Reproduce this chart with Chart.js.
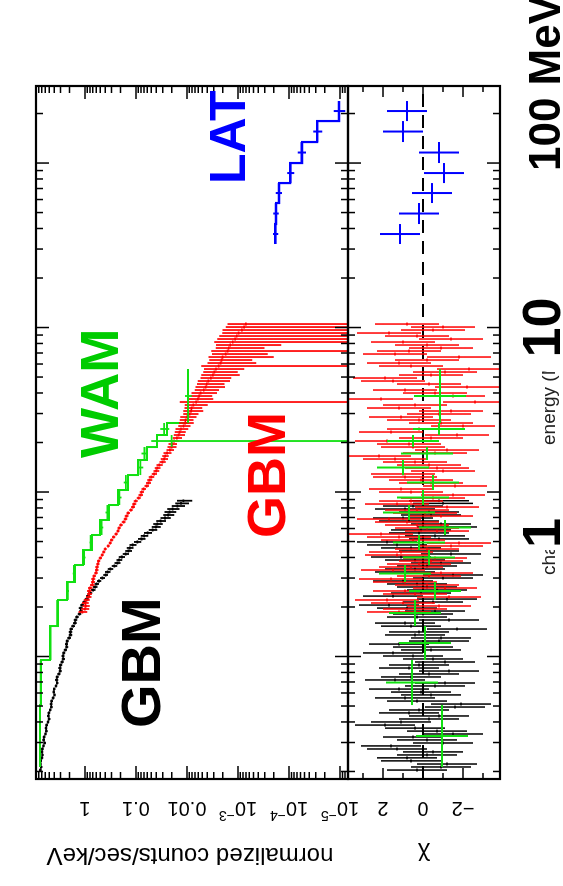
<!DOCTYPE html>
<html>
<head>
<meta charset="utf-8">
<script src="https://cdn.jsdelivr.net/npm/chart.js@4.4.1/dist/chart.umd.min.js"></script>
<style>
html, body { margin: 0; padding: 0; background: #fff; overflow: hidden; width: 563px; height: 886px; }
#rot { position: absolute; left: 0; top: 0; width: 886px; height: 563px;
       transform-origin: 0 0; transform: translateY(886px) rotate(-90deg); }
#rot canvas { position: absolute; left: 0; top: 0; }
</style>
</head>
<body>
<div id="rot">
  <canvas id="mainChart" width="886" height="563"></canvas>
  <canvas id="chiChart" width="886" height="563"></canvas>
</div>
<script>
// ---- data (energy in MeV, normalized counts/sec/keV, chi) ----
// GBM NaI (black)
const nbE = [0.0204,0.0213,0.0222,0.0232,0.0242,0.0252,0.0263,0.0274,0.0286,0.0298,
  0.0311,0.0324,0.0338,0.0352,0.0367,0.0383,0.0400,0.0417,0.0435,0.0454,
  0.0473,0.0493,0.0514,0.0536,0.0560,0.0584,0.0608,0.0634,0.0662,0.0690,
  0.0720,0.0751,0.0783,0.0816,0.0851,0.0888,0.0926,0.0966,0.1007,0.1051,
  0.1096,0.1142,0.119,0.1242,0.1296,0.1352,0.141,0.1469,0.153,0.1597,
  0.1667,0.1738,0.1813,0.189,0.197,0.2055,0.2144,0.2235,0.233,0.2431,
  0.2537,0.2646,0.276,0.2877,0.300,0.313,0.3265,0.3404,0.355,0.3702,
  0.386,0.4026,0.420,0.4381,0.457,0.4766,0.497,0.5185,0.541,0.564,
  0.588,0.613,0.639,0.6664,0.695,0.7249,0.756,0.7883,0.822,0.8529,0.885];
const nbC = [7.5,7.2,7.45,7.35,7.0,6.8,6.95,6.85,6.5,6.2,
  6.45,6.3,5.95,5.7,5.8,5.65,5.3,5.05,5.2,5.1,
  4.8,4.55,4.6,4.5,4.2,3.95,4.1,4.0,3.7,3.5,
  3.6,3.5,3.25,3.05,3.1,3.0,2.8,2.65,2.7,2.6,
  2.42,2.28,2.3,2.22,2.05,1.92,1.93,1.86,1.71,1.58,
  1.54,1.44,1.28,1.2,1.21,1.14,1.03,0.93,0.87,0.79,
  0.69,0.63,0.59,0.53,0.455,0.395,0.36,0.318,0.265,0.232,
  0.213,0.19,0.16,0.141,0.132,0.116,0.094,0.078,0.069,0.059,
  0.047,0.041,0.038,0.033,0.027,0.0235,0.022,0.0192,0.0155,0.0131,0.0118];
const nbErr = [0.06,0.06,0.06,0.06,0.06,0.06,0.06,0.06,0.06,0.06,
  0.06,0.06,0.06,0.06,0.06,0.06,0.06,0.06,0.06,0.06,
  0.06,0.06,0.06,0.06,0.06,0.06,0.06,0.06,0.06,0.06,
  0.07,0.07,0.07,0.07,0.07,0.07,0.07,0.07,0.07,0.07,
  0.07,0.07,0.07,0.07,0.08,0.08,0.08,0.08,0.08,0.08,
  0.08,0.08,0.08,0.08,0.09,0.09,0.09,0.09,0.09,0.09,
  0.1,0.1,0.1,0.1,0.11,0.11,0.12,0.12,0.12,0.13,
  0.13,0.14,0.14,0.15,0.15,0.16,0.16,0.17,0.17,0.18,
  0.19,0.2,0.21,0.22,0.23,0.24,0.26,0.27,0.29,0.3,0.33];
const nbChi = [0.3,-0.9,-1.2,0.6,0.8,-0.2,-0.5,1.3,1.6,-1.0,
  -0.2,0.5,-1.5,-0.7,0.4,1.9,1.1,-0.3,-0.8,0.7,
  0.2,-1.6,-1.9,0.3,0.9,-0.4,0.1,1.2,-0.6,-1.1,
  1.4,0.6,-0.3,-1.3,0.7,0.2,-1.1,-0.5,0.5,1.5,
  -0.4,0.0,1.2,-0.8,-0.9,0.4,0.2,-1.7,0.6,0.9,
  -1.3,0.3,0.0,-0.6,0.8,1.7,-0.5,-1.2,1.5,0.1,
  -0.7,-0.2,0.3,1.0,-1.0,-1.5,0.9,0.4,-0.2,-0.9,
  0.4,1.1,-1.4,-0.3,0.6,1.3,1.8,-0.8,-0.6,0.2,
  0.1,-1.2,-0.9,0.7,1.0,-0.4,-0.3,0.9,0.5,-1.0,-0.8];
const nbChiErr = 1.5;

// GBM BGO (red)
const bgoE = [0.1865,0.1945,0.2028,0.2115,0.2206,0.23,0.2399,0.2502,0.2609,0.2721,
  0.2837,0.2959,0.3086,0.3218,0.3356,0.35,0.365,0.3807,0.397,0.414,
  0.4318,0.4503,0.4696,0.4897,0.5107,0.5326,0.5554,0.5792,0.6041,0.63,
  0.657,0.6852,0.7146,0.7452,0.7771,0.8104,0.8452,0.8815,0.9194,0.9589,
  1.0,1.0431,1.088,1.1345,1.183,1.2339,1.287,1.3419,1.399,1.4592,
  1.522,1.5871,1.655,1.726,1.8,1.8773,1.958,2.0422,2.13,2.2211,
  2.316,2.4154,2.519,2.6272,2.74,2.8575,2.98,3.1078,3.241,3.38,
  3.525,3.6761,3.834,3.998,4.169,4.3481,4.535,4.7293,4.932,5.1435,
  5.364,5.594,5.834,6.0841,6.345,6.6172,6.901,7.1972,7.506,7.8281,
  8.164,8.514,8.879,9.2593,9.656,10.069,10.5];
const bgoC = [1.12,1.0,0.96,0.99,0.93,0.85,0.82,0.83,0.79,0.72,
  0.70,0.69,0.66,0.61,0.59,0.58,0.56,0.54,0.50,0.46,
  0.43,0.40,0.35,0.32,0.30,0.275,0.245,0.226,0.214,0.197,
  0.175,0.161,0.153,0.142,0.126,0.115,0.109,0.101,0.089,0.081,
  0.077,0.071,0.062,0.057,0.054,0.050,0.044,0.0402,0.038,0.0348,
  0.0305,0.0281,0.0267,0.0246,0.0216,0.0201,0.0193,0.0179,0.0158,0.0146,
  0.0140,0.0131,0.0117,0.0109,0.0107,0.0100,0.0089,0.0083,0.0081,0.0075,
  0.0066,0.0061,0.0058,0.0054,0.0047,0.0043,0.0041,0.0038,0.0034,0.0031,
  0.0029,0.0027,0.0024,0.0022,0.0021,0.0020,0.00175,0.00160,0.00152,0.00142,
  0.00127,0.00114,0.00106,0.00097,0.00084,0.00076,0.00070];
const bgoErr = [0.2,0.18,0.16,0.15,0.13,0.12,0.11,0.1,0.1,0.1,
  0.09,0.09,0.08,0.08,0.08,0.08,0.07,0.07,0.07,0.07,
  0.07,0.07,0.07,0.07,0.07,0.07,0.07,0.07,0.07,0.08,
  0.08,0.08,0.08,0.08,0.08,0.09,0.09,0.09,0.09,0.1,
  0.1,0.1,0.1,0.11,0.11,0.12,0.12,0.13,0.13,0.14,
  0.14,0.16,0.15,0.18,0.17,0.2,0.19,0.22,0.21,0.25,
  0.24,0.28,0.27,0.32,0.3,0.35,0.33,0.42,0.38,0.48,
  1.1,0.5,0.45,0.52,0.5,0.58,0.55,0.62,0.6,0.7,
  0.65,0.72,1.2,0.8,0.75,0.9,0.85,1.1,0.8,0.9,
  1.3,1.25,1.2,1.1,1.4,1.3,1.3];
const bgoChi = [1.2,0.4,-0.8,1.0,1.8,-1.3,0.4,0.9,-1.1,-0.2,
  0.9,1.6,-0.3,-0.9,1.5,0.6,0.2,-0.4,-0.6,1.3,
  1.1,-0.2,-1.4,-1.8,0.5,1.2,2.1,-0.7,-0.2,0.3,
  0.8,1.7,-0.9,-0.1,0.3,-1.2,1.3,0.6,-0.5,-1.5,
  0.6,1.1,-1.6,-0.4,0.1,0.9,1.0,-1.0,-0.7,-0.3,
  0.4,1.4,2.2,-0.6,-1.2,0.5,0.7,1.8,-0.4,-1.7,
  1.6,0.2,-2.0,-0.9,0.2,1.1,-0.8,-1.4,1.2,0.4,
  -2.6,2.1,-1.5,-0.6,0.9,-2.2,-0.3,1.5,1.9,-0.4,
  -1.1,-2.3,0.6,1.2,-0.2,-1.8,1.4,0.7,-0.9,-0.2,
  1.0,-1.4,0.3,1.7,-0.5,-1.0,0.8];
const bgoChiErr = 1.6;

// Suzaku WAM (green): bin edges, model steps, data
const wamEdges = [0.0213,0.0507,0.0952,0.1532,0.2206,0.2837,0.3599,0.444,0.5479,0.676,0.8336,1.0285,1.2683,1.5652,1.877,2.2213,2.6281,5.594];
const wamModel = [7.63,7.30,4.86,3.38,2.25,1.57,1.094,0.729,0.508,0.338,0.226,0.1436,0.0913,0.0609,0.0388,0.0247,0.00954];
const wamData = [7.6,7.4,4.7,3.5,2.16,1.65,1.04,0.77,0.47,0.365,0.212,0.158,0.082,0.068,0.02,0.028,0.0095];
const wamErr = [0.03,0.03,0.04,0.04,0.05,0.05,0.06,0.06,0.07,0.08,0.09,0.1,0.12,0.14,1.5,0.2,0.15];
const wamChi = [-0.95,0.55,-0.1,0.4,-0.6,0.9,-0.3,0.2,-1.1,0.7,0.0,-0.5,1.0,-0.2,0.5,-0.8,-0.85];
const wamChiErr = 1.3;

// Fermi LAT (blue)
const latEdges = [32.19,42.58,57.14,75.56,100.0,134.2,180.0,238.2];
const latModel = [1.881e-4,1.80e-4,1.57e-4,9.56e-5,5.56e-5,2.83e-5,1.047e-5];
const latData = [1.85e-4,1.82e-4,1.6e-4,9.4e-5,5.7e-5,2.8e-5,1.06e-5];
const latErr = [0.12,0.12,0.14,0.16,0.18,0.2,0.25];
const latChi = [1.15,0.2,-0.45,-1.05,-0.8,1.0,0.8];
const latChiErr = 1.0;

// axis ticks / labels
const countTicks = [1, 0.1, 0.01, 1e-3, 1e-4, 1e-5];
const countLabels = ['1', '0.1', '0.01', '10^\u22123', '10^\u22124', '10^\u22125'];
const chiTicks = [2, 0, -2];
const chiLabels = ['2', '0', '\u22122'];
const energyTicks = [1, 10, 100];
const energyLabels = ['1', '10', '100 MeV'];

const E_MIN = 0.018, E_MAX = 294, C_MIN = 7e-6, C_MAX = 9.1, CHI_MIN = -3.85, CHI_MAX = 3.75;
const FONT = '"Liberation Sans", Arial, Helvetica, sans-serif';
const GREEN = '#11e011', RED = '#ff0000', BLUE = '#0000ff';

// ---- helpers ----
function midEdges(e) {
  return e.map((v, i) => {
    const lo = i > 0 ? Math.sqrt(v * e[i - 1]) : v * Math.sqrt(v / e[i + 1]);
    const hi = i < e.length - 1 ? Math.sqrt(v * e[i + 1]) : v * Math.sqrt(v / e[i - 1]);
    return [lo, hi];
  });
}
function binEdges(edges) {
  return edges.slice(0, -1).map((v, i) => [v, edges[i + 1]]);
}
function crossData(E, ed, C, err) {
  return E.map((v, i) => ({ x: v, y: C[i], xl: ed[i][0], xh: ed[i][1], yl: C[i] * (1 - err[i]), yh: C[i] * (1 + err[i]) }));
}
function chiData(E, ed, chi, err) {
  return E.map((v, i) => ({ x: v, y: chi[i], xl: ed[i][0], xh: ed[i][1], yl: chi[i] - err, yh: chi[i] + err }));
}
function stepData(edges, vals) {
  const pts = vals.map((v, i) => ({ x: edges[i], y: v }));
  pts.push({ x: edges[edges.length - 1], y: vals[vals.length - 1] });
  return pts;
}

const nbEd = midEdges(nbE), bgoEd = midEdges(bgoE);
const wamEd = binEdges(wamEdges), latEd = binEdges(latEdges);
const wamE = wamEd.map(b => Math.sqrt(b[0] * b[1]));
const latE = latEd.map(b => Math.sqrt(b[0] * b[1]));

function line(ctx, x1, y1, x2, y2) { ctx.moveTo(x1, y1); ctx.lineTo(x2, y2); }

// error-bar crosses, drawn through the chart scales
const crossPlugin = {
  id: 'crosses',
  afterDatasetsDraw(chart) {
    const { ctx, chartArea: a, scales } = chart;
    ctx.save();
    ctx.beginPath(); ctx.rect(a.left, a.top, a.right - a.left, a.bottom - a.top); ctx.clip();
    chart.data.datasets.forEach(ds => {
      if (!ds.cross) return;
      const xs = scales.x, ys = scales.y;
      ctx.strokeStyle = ds.crossColor; ctx.lineWidth = ds.crossWidth || 1.5;
      ctx.beginPath();
      ds.data.forEach(p => {
        const px = xs.getPixelForValue(p.x), py = ys.getPixelForValue(p.y);
        const y1 = (ys.type === 'logarithmic' && p.yl < ys.min) ? a.bottom + 5 : ys.getPixelForValue(p.yl);
        const y2 = ys.getPixelForValue(p.yh);
        line(ctx, xs.getPixelForValue(p.xl), py, xs.getPixelForValue(p.xh), py);
        line(ctx, px, y1, px, y2);
      });
      ctx.stroke();
    });
    ctx.restore();
  }
};

function energyTicksOn(ctx, xs, yTop, yBot) {
  for (let d = -2; d <= 2; d++) {
    for (let m = 1; m <= 9; m++) {
      const v = m * Math.pow(10, d);
      if (v < E_MIN || v > E_MAX) continue;
      const px = xs.getPixelForValue(v), len = m === 1 ? 13 : 7;
      line(ctx, px, yTop, px, yTop + len);
      line(ctx, px, yBot, px, yBot - len);
    }
  }
}

function rotLabel(ctx, text, cx, cy, size) {
  const parts = text.split('^');
  ctx.save();
  ctx.translate(cx, cy); ctx.rotate(-Math.PI / 2);
  ctx.textBaseline = 'middle'; ctx.textAlign = 'left';
  ctx.font = size + 'px ' + FONT;
  const wb = ctx.measureText(parts[0]).width;
  let ws = 0;
  const ss = Math.round(size * 0.68);
  if (parts[1]) { ctx.font = ss + 'px ' + FONT; ws = ctx.measureText(parts[1]).width; }
  const x0 = -(wb + ws) / 2;
  ctx.font = size + 'px ' + FONT; ctx.fillText(parts[0], x0, 0);
  if (parts[1]) { ctx.font = ss + 'px ' + FONT; ctx.fillText(parts[1], x0 + wb, -size * 0.36); }
  ctx.restore();
}

const mainFrame = {
  id: 'mainFrame',
  afterDraw(chart) {
    const { ctx, chartArea: a, scales: { x, y } } = chart;
    ctx.save();
    ctx.strokeStyle = '#000'; ctx.fillStyle = '#000';
    ctx.lineWidth = 1.5;
    ctx.beginPath();
    energyTicksOn(ctx, x, a.top, a.bottom);
    for (let d = -6; d <= 0; d++) {
      for (let m = 1; m <= 9; m++) {
        const v = m * Math.pow(10, d);
        if (v < C_MIN || v > C_MAX) continue;
        const py = y.getPixelForValue(v), len = m === 1 ? 13 : 7;
        line(ctx, a.left, py, a.left + len, py);
        line(ctx, a.right, py, a.right - len, py);
      }
    }
    ctx.stroke();
    ctx.lineWidth = 2.2;
    ctx.strokeRect(a.left, a.top, a.right - a.left, a.bottom - a.top);
    countTicks.forEach((v, i) => rotLabel(ctx, countLabels[i], a.left - 29, y.getPixelForValue(v), 20));
    ctx.restore();
  }
};

const chiFrame = {
  id: 'chiFrame',
  afterDraw(chart) {
    const { ctx, chartArea: a, scales: { x, y } } = chart;
    ctx.save();
    ctx.strokeStyle = '#000'; ctx.fillStyle = '#000';
    ctx.lineWidth = 1.5;
    ctx.beginPath();
    energyTicksOn(ctx, x, a.top, a.bottom);
    for (let c = -3; c <= 3; c++) {
      const py = y.getPixelForValue(c), len = c % 2 === 0 ? 11 : 6;
      line(ctx, a.left, py, a.left + len, py);
      line(ctx, a.right, py, a.right - len, py);
    }
    ctx.stroke();
    ctx.lineWidth = 2.2;
    ctx.strokeRect(a.left, a.top, a.right - a.left, a.bottom - a.top);
    chiTicks.forEach((v, i) => rotLabel(ctx, chiLabels[i], a.left - 29, y.getPixelForValue(v), 20));
    // axis titles
    rotLabel(ctx, 'normalized counts/sec/keV', 31, 190, 24);
    rotLabel(ctx, '\u03c7', 31, (a.top + a.bottom) / 2, 24);
    ctx.font = '19px ' + FONT; ctx.textAlign = 'left'; ctx.textBaseline = 'alphabetic';
    ctx.fillStyle = '#222';
    ctx.fillText('channel', 311, 555);
    ctx.fillText('energy (MeV)', 441, 555);

    // big energy labels pasted over the axis
    const pos = [x.getPixelForValue(energyTicks[0]) - 56, x.getPixelForValue(energyTicks[1]) - 30, x.getPixelForValue(energyTicks[2]) - 8];
    const size = [54, 54, 44];
    const boxL = [2, 14, 2];
    const boxW = [54, 100, 200];
    energyLabels.forEach((t, i) => {
      ctx.font = 'bold ' + size[i] + 'px ' + FONT;
      ctx.fillStyle = '#fff';
      ctx.fillRect(pos[i] - boxL[i], 514, boxW[i], 49);
      ctx.fillStyle = '#000';
      ctx.fillText(t, pos[i], 560);
    });

    // instrument annotations
    ctx.font = 'bold 56px ' + FONT;
    ctx.fillStyle = '#000'; ctx.fillText('GBM', 158, 160);
    ctx.font = 'bold 53px ' + FONT;
    ctx.fillStyle = '#00cc00'; ctx.fillText('WAM', 428, 118);
    ctx.font = 'bold 54px ' + FONT;
    ctx.fillStyle = RED; ctx.fillText('GBM', 348, 285);
    ctx.font = 'bold 50px ' + FONT;
    ctx.fillStyle = BLUE; ctx.fillText('LAT', 702, 245);
    ctx.restore();
  }
};

const baseOpts = (pad, yScale) => ({
  responsive: false,
  animation: false,
  events: [],
  layout: { padding: pad },
  plugins: { legend: { display: false }, tooltip: { enabled: false } },
  elements: { point: { radius: 0 } },
  scales: {
    x: { type: 'logarithmic', min: E_MIN, max: E_MAX, display: false },
    y: yScale
  }
});

new Chart(document.getElementById('mainChart'), {
  type: 'scatter',
  data: {
    datasets: [
      { data: stepData(wamEdges, wamModel), showLine: true, stepped: true, borderColor: GREEN, borderWidth: 2 },
      { data: stepData(latEdges, latModel), showLine: true, stepped: true, borderColor: BLUE, borderWidth: 2.2 },
      { data: crossData(nbE, nbEd, nbC, nbErr), cross: true, crossColor: '#000', crossWidth: 1.8 },
      { data: crossData(bgoE, bgoEd, bgoC, bgoErr), cross: true, crossColor: RED, crossWidth: 1.7 },
      { data: crossData(wamE, wamEd, wamData, wamErr), cross: true, crossColor: GREEN, crossWidth: 1.8 },
      { data: crossData(latE, latEd, latData, latErr), cross: true, crossColor: BLUE, crossWidth: 2 }
    ]
  },
  options: baseOpts({ left: 107, right: 86, top: 36, bottom: 215 },
    { type: 'logarithmic', min: C_MIN, max: C_MAX, display: false }),
  plugins: [crossPlugin, mainFrame]
});

new Chart(document.getElementById('chiChart'), {
  type: 'scatter',
  data: {
    datasets: [
      { data: [{ x: E_MIN, y: 0 }, { x: E_MAX, y: 0 }], showLine: true, borderColor: '#000', borderWidth: 2, borderDash: [13, 8] },
      { data: chiData(nbE, nbEd, nbChi, nbChiErr), cross: true, crossColor: '#000', crossWidth: 1.5 },
      { data: chiData(bgoE, bgoEd, bgoChi, bgoChiErr), cross: true, crossColor: RED, crossWidth: 1.5 },
      { data: chiData(wamE, wamEd, wamChi, wamChiErr), cross: true, crossColor: GREEN, crossWidth: 2 },
      { data: chiData(latE, latEd, latChi, latChiErr), cross: true, crossColor: BLUE, crossWidth: 2 }
    ]
  },
  options: baseOpts({ left: 107, right: 86, top: 348, bottom: 63 },
    { type: 'linear', min: CHI_MIN, max: CHI_MAX, display: false }),
  plugins: [crossPlugin, chiFrame]
});
</script>
</body>
</html>
